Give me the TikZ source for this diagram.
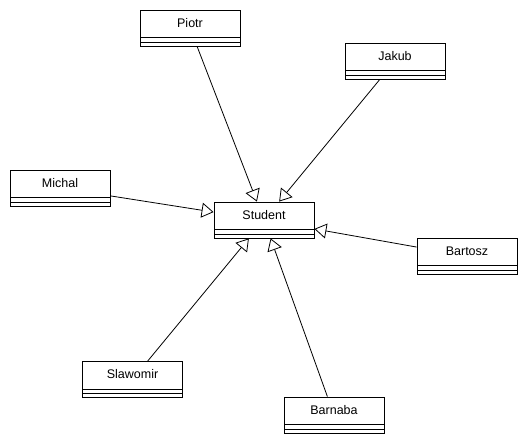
\documentclass[tikz,border=0pt]{standalone}
\usepackage{fontspec}
\setmainfont{Liberation Sans}
\usepackage{tikz}
\usetikzlibrary{arrows.meta}

\begin{document}
\begin{tikzpicture}[
  x=1pt, y=1pt,
  line width=0.8pt,
  >={Triangle[open, length=12pt, width=15pt]},
  every node/.style={font=\fontsize{12.5}{15}\selectfont},
  cls/.style={draw, fill=white, minimum width=100pt, minimum height=36pt,
              inner sep=0pt, text height=6pt, text depth=7pt,
              path picture={
                \draw ([yshift=8.5pt]path picture bounding box.south west)
                   -- ([yshift=8.5pt]path picture bounding box.south east);
                \draw ([yshift=4pt]path picture bounding box.south west)
                   -- ([yshift=4pt]path picture bounding box.south east);
              }}
]
\useasboundingbox (0,0) rectangle (527,443);
%% base class
\node[cls] (student) at (264,223) {Student};
%% subclasses
\node[cls] (piotr)    at (190,415)   {Piotr};
\node[cls] (jakub)    at (395,382)   {Jakub};
\node[cls] (michal)   at (60,255)    {Michal};
\node[cls] (bartosz)  at (467,187)   {Bartosz};
\node[cls] (slawomir) at (132.5,63.5) {Slawomir};
\node[cls] (barnaba)  at (334,28)    {Barnaba};
%% inheritance
\draw[->] (piotr) -- (student);
\draw[->] (jakub) -- (student);
\draw[->] (michal) -- (student);
\draw[->] (bartosz) -- (student);
\draw[->] (slawomir) -- (student);
\draw[->] (barnaba) -- (student);
\end{tikzpicture}
\end{document}
